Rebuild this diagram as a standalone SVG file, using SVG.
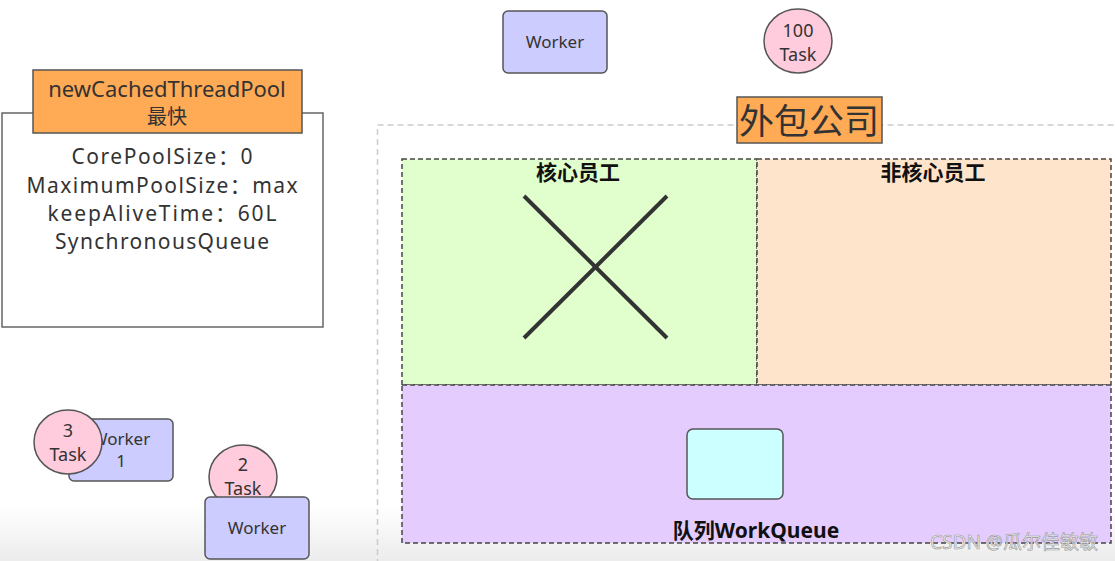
<svg xmlns="http://www.w3.org/2000/svg" width="1115" height="561" viewBox="0 0 1115 561">
<defs>
<linearGradient id="bg" x1="0" y1="0" x2="0" y2="1">
<stop offset="0" stop-color="#ffffff"/>
<stop offset="1" stop-color="#ececec"/>
</linearGradient>
<style>
text{font-family:"Noto Sans","Noto Sans CJK SC",sans-serif;fill:#333;text-anchor:middle}
.worker{fill:#ccccff;stroke:#555;stroke-width:1.5}
.task{fill:#ffccdd;stroke:#555;stroke-width:1.5}
.dash{stroke:#444;stroke-width:1.5;stroke-dasharray:5 3}
.bold{font-weight:bold;fill:#111}
.param{font-size:21px}
</style>
</defs>
<rect width="1115" height="561" fill="#fff"/>
<rect x="0" y="505" width="1115" height="56" fill="url(#bg)"/>

<g id="pool-box">
<rect x="2" y="113" width="321" height="214" fill="#fff" stroke="#666" stroke-width="1.5"/>
<rect x="33" y="70" width="269" height="63" fill="#ffaa55" stroke="#555" stroke-width="1.5"/>
<text x="167" y="97" font-size="22">newCachedThreadPool</text>
<text x="167" y="124" font-size="20">最快</text>
<text class="param" x="162" y="164" textLength="181" lengthAdjust="spacing">CorePoolSize：0</text>
<text class="param" x="162" y="193" textLength="271" lengthAdjust="spacing">MaximumPoolSize：max</text>
<text class="param" x="162" y="221" textLength="229" lengthAdjust="spacing">keepAliveTime：60L</text>
<text class="param" x="162" y="249" textLength="214" lengthAdjust="spacing">SynchronousQueue</text>
</g>

<g id="company">
<rect x="377.5" y="125" width="740" height="440" fill="none" stroke="#ccc" stroke-width="1.5" stroke-dasharray="6 4"/>
<rect x="402" y="159" width="355" height="226" fill="#e0ffcc" class="dash"/>
<rect x="757" y="159" width="354" height="226" fill="#ffe4cc" class="dash"/>
<rect x="402" y="385" width="709" height="158" fill="#e4ccff" class="dash"/>
<text class="bold" x="578" y="180" font-size="21">核心员工</text>
<text class="bold" x="933" y="180" font-size="21">非核心员工</text>
<text class="bold" x="756" y="538" font-size="21">队列WorkQueue</text>
<rect x="737" y="97" width="145" height="46" fill="#ffaa55" stroke="#555" stroke-width="1.5"/>
<text x="809" y="134" font-size="35">外包公司</text>
</g>

<g id="cross">
<line x1="524" y1="196" x2="667" y2="338" stroke="#333" stroke-width="4"/>
<line x1="667" y1="196" x2="524" y2="338" stroke="#333" stroke-width="4"/>
</g>

<g id="queue-slot">
<rect x="687" y="429" width="96" height="70" rx="6" fill="#ccffff" stroke="#555" stroke-width="1.5"/>
</g>

<g id="worker-top">
<rect x="503" y="11" width="104" height="62" rx="5" class="worker"/>
<text x="555" y="48" font-size="17">Worker</text>
</g>

<g id="task-100">
<ellipse cx="798" cy="41" rx="34" ry="32" class="task"/>
<text x="798" y="37" font-size="18">100</text>
<text x="798" y="61" font-size="18">Task</text>
</g>

<g id="worker-1">
<rect x="69" y="419" width="104" height="62" rx="5" class="worker"/>
<text x="121" y="445" font-size="17">Worker</text>
<text x="121" y="467" font-size="17">1</text>
</g>

<g id="task-3">
<ellipse cx="68" cy="442" rx="34" ry="32" class="task"/>
<text x="68" y="437" font-size="18">3</text>
<text x="68" y="461" font-size="18">Task</text>
</g>

<g id="task-2">
<ellipse cx="243" cy="477" rx="34" ry="32" class="task"/>
<text x="243" y="471" font-size="18">2</text>
<text x="243" y="495" font-size="18">Task</text>
</g>

<g id="worker-bottom">
<rect x="205" y="497" width="104" height="62" rx="5" class="worker"/>
<text x="257" y="534" font-size="17">Worker</text>
</g>

<g id="connectors"></g>

<text x="1014" y="549" font-size="19" style="fill:#eeeeee;stroke:#999;stroke-width:0.6">CSDN @瓜尔佳敏敏</text>
</svg>
